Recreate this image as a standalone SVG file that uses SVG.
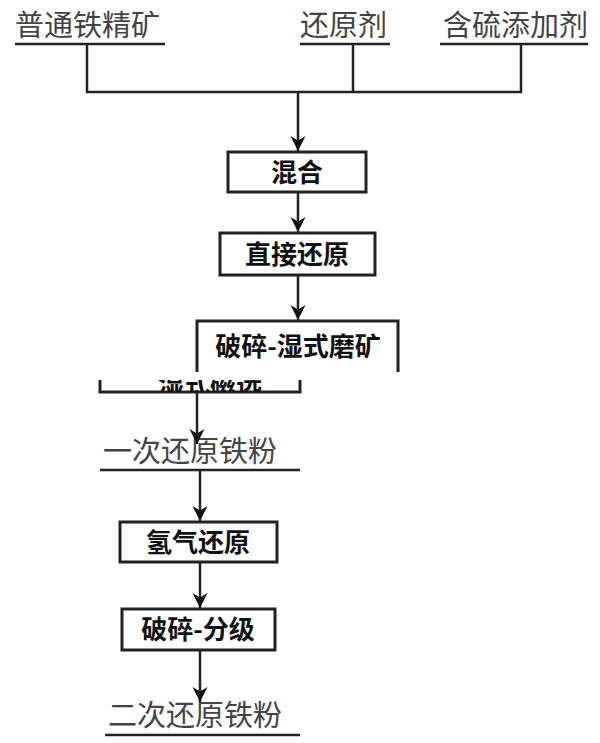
<svg xmlns="http://www.w3.org/2000/svg" width="600" height="743" viewBox="0 0 600 743">
<style>
.l{font-family:"Noto Sans CJK SC",sans-serif;font-size:29px;fill:#444}
.b{font-family:"Noto Sans CJK SC",sans-serif;font-size:26px;font-weight:bold;fill:#111;text-anchor:middle}
.ln{stroke:#222;stroke-width:2.5;fill:none}
.bx{stroke:#222;stroke-width:3;fill:#fff}
</style>
<defs><marker id="a" viewBox="0 0 10 10" refX="10" refY="5" markerWidth="6" markerHeight="7" orient="auto"><path d="M0,0L10,5L0,10L3,5z" fill="#111"/></marker>
<clipPath id="c"><rect x="100" y="380" width="200" height="12"/></clipPath></defs>
<rect width="600" height="743" fill="#fff"/>
<g id="n1"><text class="l" x="15" y="36">普通铁精矿</text><line class="ln" x1="15" y1="44" x2="165" y2="44"/></g>
<g id="n2"><text class="l" x="300" y="36">还原剂</text><line class="ln" x1="300" y1="44" x2="390" y2="44"/></g>
<g id="n3"><text class="l" x="443" y="36">含硫添加剂</text><line class="ln" x1="440" y1="44" x2="588" y2="44"/></g>
<g id="n4"><rect class="bx" x="228" y="152" width="138" height="40"/><text class="b" x="297" y="182">混合</text></g>
<g id="n5"><rect class="bx" x="220" y="233" width="155" height="42"/><text class="b" x="297" y="264">直接还原</text></g>
<g id="n6"><path class="bx" d="M197,372V321H398V372"/><text class="b" x="298" y="356">破碎-湿式磨矿</text></g>
<g id="n7"><path class="bx" d="M100,380V392H300V380"/><text class="b" x="210" y="394" clip-path="url(#c)">湿式磁选</text></g>
<g id="n8"><text class="l" x="103" y="462">一次还原铁粉</text><line class="ln" x1="100" y1="470" x2="300" y2="470"/></g>
<g id="n9"><rect class="bx" x="120" y="522" width="157" height="40"/><text class="b" x="198" y="552">氢气还原</text></g>
<g id="n10"><rect class="bx" x="122" y="609" width="153" height="41"/><text class="b" x="198" y="639">破碎-分级</text></g>
<g id="n11"><text class="l" x="108" y="726">二次还原铁粉</text><line class="ln" x1="105" y1="735" x2="300" y2="735"/></g>
<g id="edges">
<path class="ln" d="M87,44V92H521V44M353,44V92"/>
<line class="ln" x1="298" y1="92" x2="298" y2="151" marker-end="url(#a)"/>
<line class="ln" x1="298" y1="192" x2="298" y2="232" marker-end="url(#a)"/>
<line class="ln" x1="298" y1="275" x2="298" y2="320" marker-end="url(#a)"/>
<line class="ln" x1="197" y1="393" x2="197" y2="444" marker-end="url(#a)"/>
<line class="ln" x1="200" y1="470" x2="200" y2="521" marker-end="url(#a)"/>
<line class="ln" x1="200" y1="562" x2="200" y2="608" marker-end="url(#a)"/>
<line class="ln" x1="200" y1="650" x2="200" y2="702" marker-end="url(#a)"/>
</g>
</svg>
